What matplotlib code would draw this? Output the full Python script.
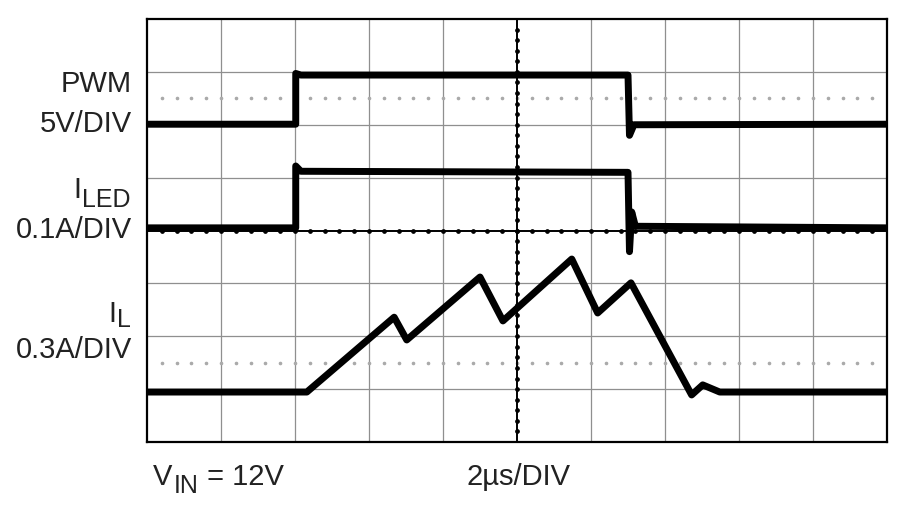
import matplotlib
matplotlib.use("Agg")
import matplotlib.pyplot as plt
import numpy as np

# ---- data (in divisions: x 0..10, y 0..8 from bottom) ----
pwm_t = [0, 2.01, 2.01, 2.08, 6.50, 6.52, 6.58, 10]
pwm_v = [6.01, 6.01, 6.97, 6.94, 6.94, 5.80, 6.00, 6.01]

iled_t = [0, 2.01, 2.01, 2.08, 6.50, 6.52, 6.55, 6.60, 10]
iled_v = [4.05, 4.05, 5.22, 5.12, 5.10, 3.60, 4.35, 4.08, 4.05]

il_t = [0, 2.16, 3.34, 3.51, 4.50, 4.81, 5.74, 6.09, 6.54, 7.36, 7.51, 7.74, 10]
il_v = [0.945, 0.945, 2.36, 1.93, 3.12, 2.29, 3.46, 2.44, 3.01, 0.89, 1.08, 0.945, 0.945]

dotted_levels = [6.5, 1.5]

W, H = 900, 513
fig = plt.figure(figsize=(W / 100, H / 100), dpi=100)
fig.patch.set_facecolor("white")
L, T, R, B = 147, 19, 887, 442
ax = fig.add_axes([L / W, 1 - B / H, (R - L) / W, (B - T) / H])
ax.set_xlim(0, 10)
ax.set_ylim(0, 8)
ax.set_xticks([])
ax.set_yticks([])
for s in ax.spines.values():
    s.set_linewidth(1.6)
    s.set_color("black")

grid_c = "#8f8f8f"
for gx in range(1, 10):
    if gx != 5:
        ax.axvline(gx, color=grid_c, lw=0.9, zorder=1)
for gy in range(1, 8):
    if gy != 4:
        ax.axhline(gy, color=grid_c, lw=0.9, zorder=1)
ax.axvline(5, color="black", lw=1.4, zorder=2)
ax.axhline(4, color="black", lw=1.4, zorder=2)

minor = np.arange(0.2, 10, 0.2)
ax.plot(minor, np.full_like(minor, 4.0), ls="none", marker="o", ms=2.4,
        color="black", zorder=2)
minor_y = np.arange(0.2, 8, 0.2)
ax.plot(np.full_like(minor_y, 5.0), minor_y, ls="none", marker="o", ms=2.4,
        color="black", zorder=2)
for lv in dotted_levels:
    ax.plot(minor, np.full_like(minor, lv), ls="none", marker="o", ms=1.6,
            color="#aaaaaa", zorder=1)

for tt, vv in ((pwm_t, pwm_v), (iled_t, iled_v), (il_t, il_v)):
    ax.plot(tt, vv, color="black", lw=5.0, solid_joinstyle="round",
            solid_capstyle="butt", zorder=3)

fam = ["Liberation Sans Narrow", "Liberation Sans", "DejaVu Sans"]
fs = 21
fs_sub = 18
col = "#222222"

def ftxt(px, py, s, size=fs, ha="right"):
    return fig.text(px / W, 1 - py / H, s, ha=ha, va="baseline",
                    fontsize=size, family=fam, color=col)

ftxt(132, 92, "PWM")
ftxt(132, 132, "5V/DIV")
ftxt(132, 238, "0.1A/DIV")
ftxt(132, 358, "0.3A/DIV")

fig.canvas.draw()
rend = fig.canvas.get_renderer()

def width(t):
    return t.get_window_extent(rend).width

t_led = ftxt(131, 207, "LED", size=fs_sub)
ftxt(131 - width(t_led) - 1, 198, "I")
t_l = ftxt(131, 327, "L", size=fs_sub)
ftxt(131 - width(t_l) - 1, 322, "I")

# bottom captions
t_v = ftxt(153, 485, "V", ha="left")
x = 153 + width(t_v) + 1
t_in = ftxt(x, 493, "IN", size=fs_sub, ha="left")
x += width(t_in) + 1
ftxt(x, 485, " = 12V", ha="left")
ftxt(467, 485, "2\u00b5s/DIV", ha="left")

fig.savefig("out.png", dpi=100, facecolor="white")
